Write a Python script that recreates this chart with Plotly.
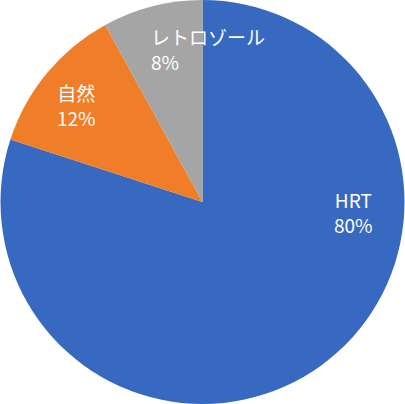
import plotly.graph_objects as go

labels = ["HRT", "自然", "レトロゾール"]
values = [80, 12, 8]
colors = ["#3769C1", "#F07D28", "#A5A5A5"]

# label placement (paper coords) and alignment, per slice
label_pos = [(0.872, 0.475, "center"), (0.19, 0.74, "center"), (0.368, 0.878, "left")]

fig = go.Figure(go.Pie(
    labels=labels,
    values=values,
    sort=False,
    direction="clockwise",
    rotation=0,
    marker=dict(colors=colors, line=dict(width=0)),
    textinfo="none",
    hoverinfo="label+percent",
))

total = sum(values)
for lab, val, (x, y, align) in zip(labels, values, label_pos):
    fig.add_annotation(
        x=x, y=y, xref="paper", yref="paper",
        xanchor=align, yanchor="middle", align=align,
        text=f"{lab}<br>{round(100 * val / total)}%",
        showarrow=False,
        font=dict(family="Noto Sans CJK JP", size=19, color="white"),
    )

fig.update_layout(
    width=405,
    height=404,
    margin=dict(l=0, r=0, t=0, b=0),
    showlegend=False,
    paper_bgcolor="white",
)

fig.write_html("out.html", config={"displayModeBar": False},
               post_script="document.body.style.margin='0';")
